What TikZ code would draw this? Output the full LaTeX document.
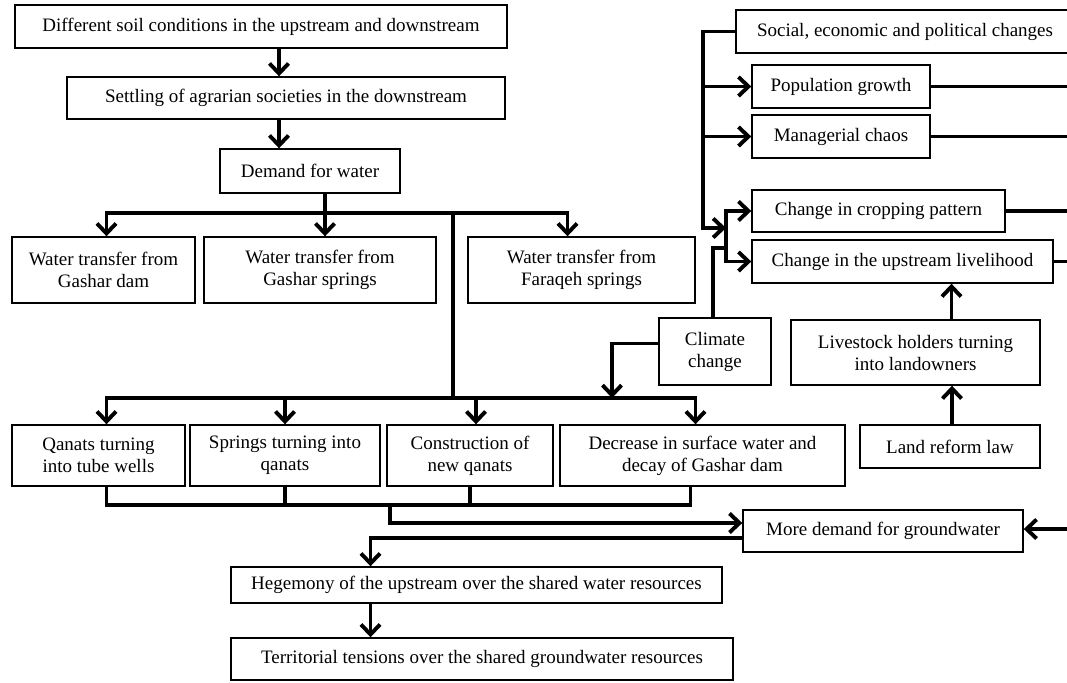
\documentclass[tikz,border=0pt]{standalone}
\usepackage{fontspec}
\setmainfont{Liberation Serif}
\usepackage{tikz}
\usetikzlibrary{arrows.meta,positioning,calc}

\begin{document}
\begin{tikzpicture}[
  x=1pt,y=-1pt,
  >={Straight Barb[length=10pt,width=19pt]},
  font=\fontsize{19}{22}\selectfont,
  box/.style={
    draw,
    line width=1.4pt,
    fill=white,
    align=center,
    inner sep=2pt
  },
  link/.style={line width=3.9pt,line join=miter},
  flow/.style={link,->}
]
\useasboundingbox (0,0) rectangle (1067,682);
\clip (0,0) rectangle (1067,682);

\node[box,minimum width=492pt,minimum height=43pt] (soil) at (261,26.5) {Different soil conditions in the upstream and downstream};
\node[box,minimum width=438pt,minimum height=42pt] (settle) at (286,98) {Settling of agrarian societies in the downstream};
\node[box,minimum width=180pt,minimum height=44pt] (demand) at (310,171) {Demand for water};

\node[box,minimum width=183pt,minimum height=66pt] (tdam) at (103.5,270) {Water transfer from\\Gashar dam};
\node[box,minimum width=232pt,minimum height=66pt] (tgspr) at (320,270) {Water transfer from\\Gashar springs};
\node[box,minimum width=227pt,minimum height=66pt] (tfspr) at (581.5,270) {Water transfer from\\Faraqeh springs};

\node[box,minimum width=173pt,minimum height=61pt] (qtube) at (98.5,455.5) {Qanats turning\\into tube wells};
\node[box,minimum width=190pt,minimum height=61pt] (sqanat) at (285,455.5) {Springs turning into\\qanats};
\node[box,minimum width=166pt,minimum height=61pt] (newq) at (470,455.5) {Construction of\\new qanats};
\node[box,minimum width=285pt,minimum height=61pt] (decr) at (702.5,455.5) {Decrease in surface water and\\decay of Gashar dam};

\node[box,minimum width=112pt,minimum height=67pt] (climate) at (715,351.5) {Climate\\change};

\node[box,minimum width=338pt,minimum height=43pt] (social) at (905,31.5) {Social, economic and political changes};
\node[box,minimum width=178pt,minimum height=43pt] (popg) at (841,86.5) {Population growth};
\node[box,minimum width=178pt,minimum height=43pt] (mchaos) at (841,136.5) {Managerial chaos};
\node[box,minimum width=253pt,minimum height=42pt] (crop) at (878.5,211) {Change in cropping pattern};
\node[box,minimum width=301pt,minimum height=43pt] (livel) at (902.5,261.5) {Change in the upstream livelihood};
\node[box,minimum width=249pt,minimum height=65pt] (livestock) at (915.5,352.5) {Livestock holders turning\\into landowners};
\node[box,minimum width=180pt,minimum height=43pt] (landref) at (950,446.5) {Land reform law};

\node[box,minimum width=280pt,minimum height=42pt] (moregw) at (883,531) {More demand for groundwater};
\node[box,minimum width=491pt,minimum height=36pt] (hegem) at (476.5,585) {Hegemony of the upstream over the shared water resources};
\node[box,minimum width=502pt,minimum height=42pt] (territ) at (482,659) {Territorial tensions over the shared groundwater resources};

\coordinate (bar1) at (325,213);
\coordinate (bar2) at (453,398);
\coordinate (bar3) at (390,505);
\coordinate (climdrop) at (612,398);
\coordinate (fork) at (726,248);
\coordinate (sbus) at (703,228);
\coordinate (edge) at (1075,0);

\draw[flow] ([xshift=18pt]soil.south) -- ([xshift=-7pt]settle.north);
\draw[flow] ([xshift=-7pt]settle.south) -- ([xshift=-31pt]demand.north);
\draw[link] ([xshift=15pt]demand.south) -- (bar1);
\draw[flow] (bar1) -| ([xshift=3pt]tdam.north);
\draw[flow] (bar1) -- (bar1 |- tgspr.north);
\draw[flow] (bar1) -| ([xshift=-14pt]tfspr.north);
\draw[link] (bar1 -| bar2) -- (bar2);
\draw[flow] (bar2) -| ([xshift=8pt]qtube.north);
\draw[flow] (bar2) -| (sqanat.north);
\draw[flow] (bar2) -| ([xshift=6pt]newq.north);
\draw[flow] (bar2) -| ([xshift=-7pt]decr.north);

\draw[flow] ([yshift=8pt]climate.west) -| (climdrop);
\draw[link] ([xshift=-2pt]climate.north) |- (fork);
\draw[flow] (fork) |- (crop.west);
\draw[flow] (fork) |- (livel.west);
\draw[flow] (social.west) -| (sbus) -- (sbus -| fork);
\draw[flow] (popg.west -| sbus) -- (popg.west);
\draw[flow] (mchaos.west -| sbus) -- (mchaos.west);

\draw[link] (popg.east) -- (popg.east -| edge);
\draw[link] (mchaos.east) -- (mchaos.east -| edge);
\draw[link] (crop.east) -- (crop.east -| edge);
\draw[link] (livel.east) -- (livel.east -| edge);
\draw[flow] ([yshift=2pt]moregw.east -| edge) -- ([yshift=2pt]moregw.east);

\draw[flow] ([xshift=36pt]livestock.north) -- ([xshift=36pt]livestock.north |- livel.south);
\draw[flow] ([xshift=2pt]landref.north) -- ([xshift=2pt]landref.north |- livestock.south);

\draw[link] ([xshift=8pt]qtube.south) |- ([xshift=-12pt]decr.south |- bar3) -- ([xshift=-12pt]decr.south);
\draw[link] (sqanat.south) -- (sqanat.south |- bar3);
\draw[link] (newq.south) -- (newq.south |- bar3);
\draw[flow] (bar3) |- ([yshift=8pt]moregw.west);
\draw[flow] ([yshift=-7pt]moregw.west) -| ([xshift=-106pt]hegem.north);
\draw[flow] ([xshift=-106pt]hegem.south) -- ([xshift=-106pt]hegem.south |- territ.north);
\end{tikzpicture}
\end{document}
